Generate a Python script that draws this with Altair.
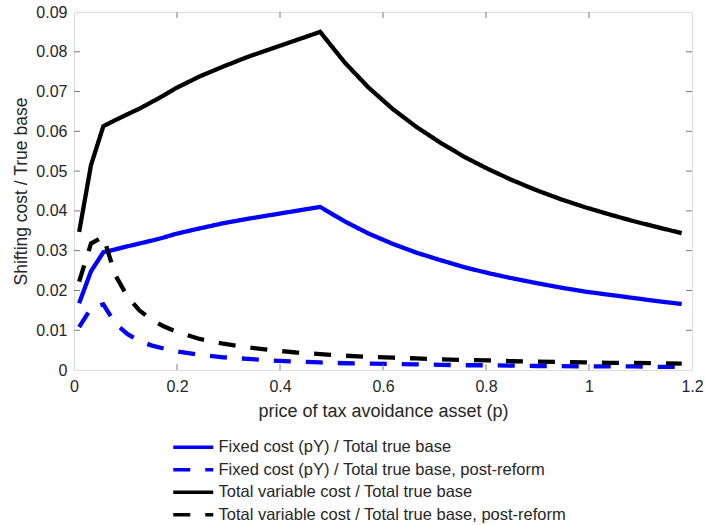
import altair as alt
import pandas as pd

# x grid (price p)
p = [0.01, 0.033, 0.057, 0.08, 0.104, 0.127, 0.15, 0.174, 0.197, 0.244, 0.29, 0.337,
     0.384, 0.431, 0.478, 0.525, 0.572, 0.619, 0.665, 0.712, 0.759, 0.806, 0.853,
     0.9, 0.946, 0.993, 1.04, 1.087, 1.133, 1.18]

fixed = [0.0168, 0.0248, 0.0296, 0.0303, 0.0311, 0.0318, 0.0325, 0.0333, 0.0342, 0.0356,
         0.0369, 0.0380, 0.0390, 0.0400, 0.0410, 0.0374, 0.0343, 0.0317, 0.0295, 0.0276,
         0.0258, 0.0243, 0.0230, 0.0218, 0.0207, 0.0197, 0.0189, 0.0181, 0.0173, 0.0166]

fixed_post = [0.0108, 0.0155, 0.0165, 0.0117, 0.0090, 0.0073, 0.0062, 0.0054, 0.0047, 0.0038,
              0.0032, 0.0028, 0.0024, 0.0021, 0.0019, 0.0017, 0.0016, 0.0015, 0.0014, 0.0013,
              0.0012, 0.0012, 0.0011, 0.0010, 0.0010, 0.0009, 0.0009, 0.0009, 0.0008, 0.0008]

total = [0.0347, 0.0515, 0.0613, 0.0628, 0.0643, 0.0657, 0.0673, 0.0690, 0.0708, 0.0738,
         0.0763, 0.0787, 0.0808, 0.0829, 0.0850, 0.0774, 0.0710, 0.0656, 0.0611, 0.0571,
         0.0535, 0.0504, 0.0476, 0.0451, 0.0429, 0.0409, 0.0391, 0.0374, 0.0359, 0.0344]

total_post = [0.0222, 0.0318, 0.0335, 0.0239, 0.0184, 0.0150, 0.0127, 0.0110, 0.0097, 0.0078,
              0.0066, 0.0057, 0.0050, 0.0044, 0.0040, 0.0036, 0.0033, 0.0031, 0.0029, 0.0027,
              0.0025, 0.0024, 0.0022, 0.0021, 0.0020, 0.0019, 0.0018, 0.0018, 0.0017, 0.0016]

series_names = [
    "Fixed cost (pY) / Total true base",
    "Fixed cost (pY) / Total true base, post-reform",
    "Total variable cost / Total true base",
    "Total variable cost / Total true base, post-reform",
]
series_colors = ["#0000ff", "#0000ff", "#000000", "#000000"]
series_dash = [[1, 0], [17, 15], [1, 0], [17, 15]]

x_ticks = [0, 0.2, 0.4, 0.6, 0.8, 1.0, 1.2]
y_ticks = [0, 0.01, 0.02, 0.03, 0.04, 0.05, 0.06, 0.07, 0.08, 0.09]

rows = []
for name, vals in zip(series_names, [fixed, fixed_post, total, total_post]):
    for i, (xv, yv) in enumerate(zip(p, vals)):
        rows.append({"p": xv, "v": yv, "series": name, "idx": i})
df = pd.DataFrame(rows)

W, H = 618, 358
FONT = "Liberation Sans"
TXT = "#262626"
FRAME = "#7a7a7a"

xscale = alt.Scale(domain=[0, 1.2], nice=False, zero=False)
yscale = alt.Scale(domain=[0, 0.09], nice=False, zero=False)

xaxis = alt.Axis(values=x_ticks, format="~g", ticks=False, domain=False, grid=False,
                 labelOverlap=False, labelFlush=False,
                 labelPadding=8, labelFontSize=16, labelFont=FONT, labelColor=TXT,
                 title="price of tax avoidance asset (p)", titleFontSize=18,
                 titleFont=FONT, titleFontWeight="normal", titleColor=TXT,
                 titlePadding=8)
yaxis = alt.Axis(values=y_ticks, format="~g", ticks=False, domain=False, grid=False,
                 labelOverlap=False, labelFlush=False,
                 labelPadding=7, labelFontSize=16, labelFont=FONT, labelColor=TXT,
                 title="Shifting cost / True base", titleFontSize=17.5,
                 titleFont=FONT, titleFontWeight="normal", titleColor=TXT,
                 titlePadding=5)

leg = dict(orient="none", legendX=111, legendY=427, title=None,
           symbolType="M-4,0H4", symbolSize=100, symbolStrokeWidth=3.5,
           labelOffset=17, labelFontSize=16.5, labelFont=FONT, labelColor=TXT,
           rowPadding=5.5, padding=0, labelLimit=600)

lines = alt.Chart(df).mark_line(strokeWidth=4.3, clip=True).encode(
    x=alt.X("p:Q", scale=xscale, axis=xaxis),
    y=alt.Y("v:Q", scale=yscale, axis=yaxis),
    color=alt.Color("series:N",
                    scale=alt.Scale(domain=series_names, range=series_colors),
                    legend=alt.Legend(**leg)),
    strokeDash=alt.StrokeDash("series:N",
                              scale=alt.Scale(domain=series_names, range=series_dash),
                              legend=alt.Legend(**leg)),
    order="idx:Q",
)

xt = pd.DataFrame({"t": x_ticks[1:-1]})
yt = pd.DataFrame({"t": y_ticks[1:-1]})
TL = 6
xb = alt.Chart(xt).mark_rule(color=FRAME, strokeWidth=1).encode(
    x=alt.X("t:Q", scale=xscale, axis=xaxis), y=alt.value(H), y2=alt.value(H - TL))
xtop = alt.Chart(xt).mark_rule(color=FRAME, strokeWidth=1).encode(
    x=alt.X("t:Q", scale=xscale, axis=xaxis), y=alt.value(0), y2=alt.value(TL))
yl = alt.Chart(yt).mark_rule(color=FRAME, strokeWidth=1).encode(
    y=alt.Y("t:Q", scale=yscale, axis=yaxis), x=alt.value(0), x2=alt.value(TL))
yr = alt.Chart(yt).mark_rule(color=FRAME, strokeWidth=1).encode(
    y=alt.Y("t:Q", scale=yscale, axis=yaxis), x=alt.value(W), x2=alt.value(W - TL))

chart = alt.layer(lines, xb, xtop, yl, yr).properties(
    width=W, height=H,
    autosize=alt.AutoSizeParams(type="none"),
    padding={"left": 74, "top": 12, "right": 13, "bottom": 155},
).configure_view(stroke=FRAME, strokeWidth=1).configure(background="white")

chart.save("out.html", embed_options={"renderer": "svg", "actions": False})
